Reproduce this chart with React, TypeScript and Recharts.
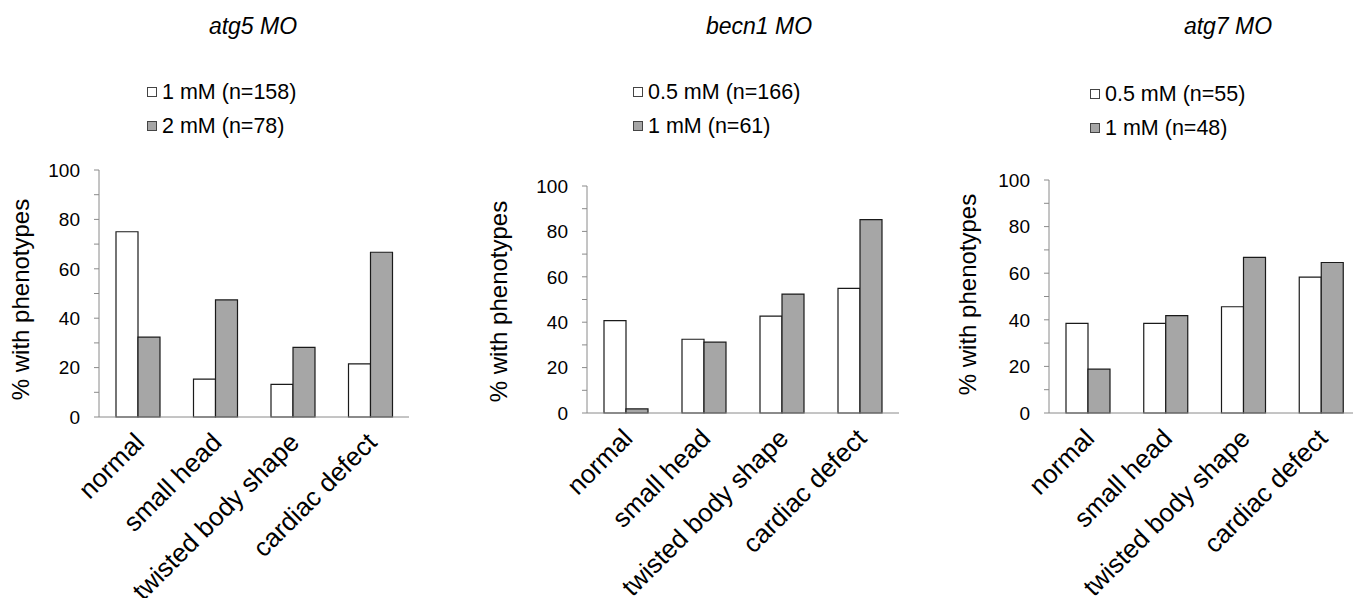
import { BarChart, Bar, XAxis, YAxis, Legend } from 'recharts';

const FONT = '"Liberation Sans", Arial, Helvetica, sans-serif';

// categories shared by all three panels
const phenotypes = ['normal', 'small head', 'twisted body shape', 'cardiac defect'];
const yTicks = [0, 10, 20, 30, 40, 50, 60, 70, 80, 90, 100];

// atg5 MO
const atg5Low = [75.0, 15.3, 13.2, 21.5];
const atg5High = [32.3, 47.4, 28.2, 66.7];
// becn1 MO
const becn1Low = [40.7, 32.5, 42.7, 54.9];
const becn1High = [1.8, 31.2, 52.4, 85.2];
// atg7 MO
const atg7Low = [38.5, 38.5, 45.6, 58.3];
const atg7High = [18.8, 41.8, 66.8, 64.6];

interface PanelDef {
    title: string;
    lowName: string;
    highName: string;
    low: number[];
    high: number[];
    left: number;
    yAxisWidth: number;
    plotWidth: number;
    top: number;
    bottom: number;
    titleCenter: number;
    legendLeft: number;
    legendTop: number;
    labelGap: number;
    labelDy: number;
}

const panels: PanelDef[] = [
    {
        title: 'atg5 MO', lowName: '1 mM (n=158)', highName: '2 mM (n=78)',
        low: atg5Low, high: atg5High,
        left: 0, yAxisWidth: 99, plotWidth: 310, top: 170, bottom: 181,
        titleCenter: 253, legendLeft: 147, legendTop: 75, labelGap: 70, labelDy: 6,
    },
    {
        title: 'becn1 MO', lowName: '0.5 mM (n=166)', highName: '1 mM (n=61)',
        low: becn1Low, high: becn1High,
        left: 480, yAxisWidth: 107, plotWidth: 312, top: 186, bottom: 185,
        titleCenter: 279, legendLeft: 153, legendTop: 75, labelGap: 80, labelDy: 2,
    },
    {
        title: 'atg7 MO', lowName: '0.5 mM (n=55)', highName: '1 mM (n=48)',
        low: atg7Low, high: atg7High,
        left: 950, yAxisWidth: 99, plotWidth: 311, top: 180, bottom: 185,
        titleCenter: 278, legendLeft: 140, legendTop: 77, labelGap: 73, labelDy: -2,
    },
];

const SlantTick = (props: any) => {
    const { x, y, payload } = props;
    const ax = x + 8;
    const ay = y + 27;
    return (
        <text x={ax} y={ay} transform={`rotate(-45 ${ax} ${ay})`} textAnchor="end"
            fontSize={26} fontFamily={FONT} fill="#000">
            {payload.value}
        </text>
    );
};

const YTitle = (props: any) => {
    const { viewBox, gap, dy } = props;
    const x = viewBox.x + viewBox.width - gap;
    const y = viewBox.y + viewBox.height / 2 + dy;
    return (
        <text x={x} y={y} transform={`rotate(-90 ${x} ${y})`} textAnchor="middle"
            fontSize={24} fontFamily={FONT} fill="#000">
            % with phenotypes
        </text>
    );
};

const LegendBox = (props: any) => {
    const { payload } = props;
    return (
        <div style={{ fontFamily: FONT, fontSize: 21.5, color: '#000' }}>
            {(payload || []).map((entry: any) => (
                <div key={entry.value} style={{ display: 'flex', alignItems: 'center', height: 34, whiteSpace: 'nowrap' }}>
                    <span style={{
                        display: 'inline-block', width: 8, height: 8, marginRight: 5,
                        background: entry.color, border: '1px solid #444',
                    }} />
                    {entry.value}
                </div>
            ))}
        </div>
    );
};

const Panel = ({ p }: { p: PanelDef }) => {
    const data = phenotypes.map((name, i) => ({ name, low: p.low[i], high: p.high[i] }));
    const width = p.yAxisWidth + p.plotWidth + 12;
    return (
        <div style={{ position: 'absolute', left: p.left, top: 0, width, height: 598 }}>
            <div style={{
                position: 'absolute', left: p.titleCenter - 150, width: 300, top: 15,
                textAlign: 'center', fontFamily: FONT, fontSize: 23, fontStyle: 'italic',
                lineHeight: '23px', color: '#000',
            }}>
                {p.title}
            </div>
            <BarChart width={width} height={598} data={data} barGap={0}
                margin={{ top: p.top, right: 12, bottom: 0, left: 0 }}>
                <XAxis dataKey="name" stroke="#8a8a8a" tickLine={false} tickSize={0} tickMargin={0}
                    interval={0} height={p.bottom} tick={<SlantTick />} />
                <YAxis domain={[0, 100]} ticks={yTicks} interval={0} width={p.yAxisWidth}
                    stroke="#8a8a8a" tickSize={5} tickMargin={14}
                    tickFormatter={(v: number) => (v % 20 === 0 ? String(v) : '')}
                    tick={{ fill: '#000', fontSize: 19, fontFamily: FONT }}
                    label={<YTitle gap={p.labelGap} dy={p.labelDy} />} />
                <Legend layout="vertical" align="center" verticalAlign="middle"
                    content={<LegendBox />}
                    wrapperStyle={{ top: p.legendTop, left: p.legendLeft, width: 'auto' }} />
                <Bar dataKey="low" name={p.lowName} fill="#ffffff" stroke="#1a1a1a" strokeWidth={1.2}
                    barSize={22} isAnimationActive={false} />
                <Bar dataKey="high" name={p.highName} fill="#a6a6a6" stroke="#1a1a1a" strokeWidth={1.2}
                    barSize={22} isAnimationActive={false} />
            </BarChart>
        </div>
    );
};

const App = () => (
    <div style={{ position: 'absolute', left: 0, top: 0, width: 1353, height: 598, overflow: 'hidden', background: '#fff' }}>
        {panels.map(p => <Panel key={p.title} p={p} />)}
    </div>
);

export default App;
